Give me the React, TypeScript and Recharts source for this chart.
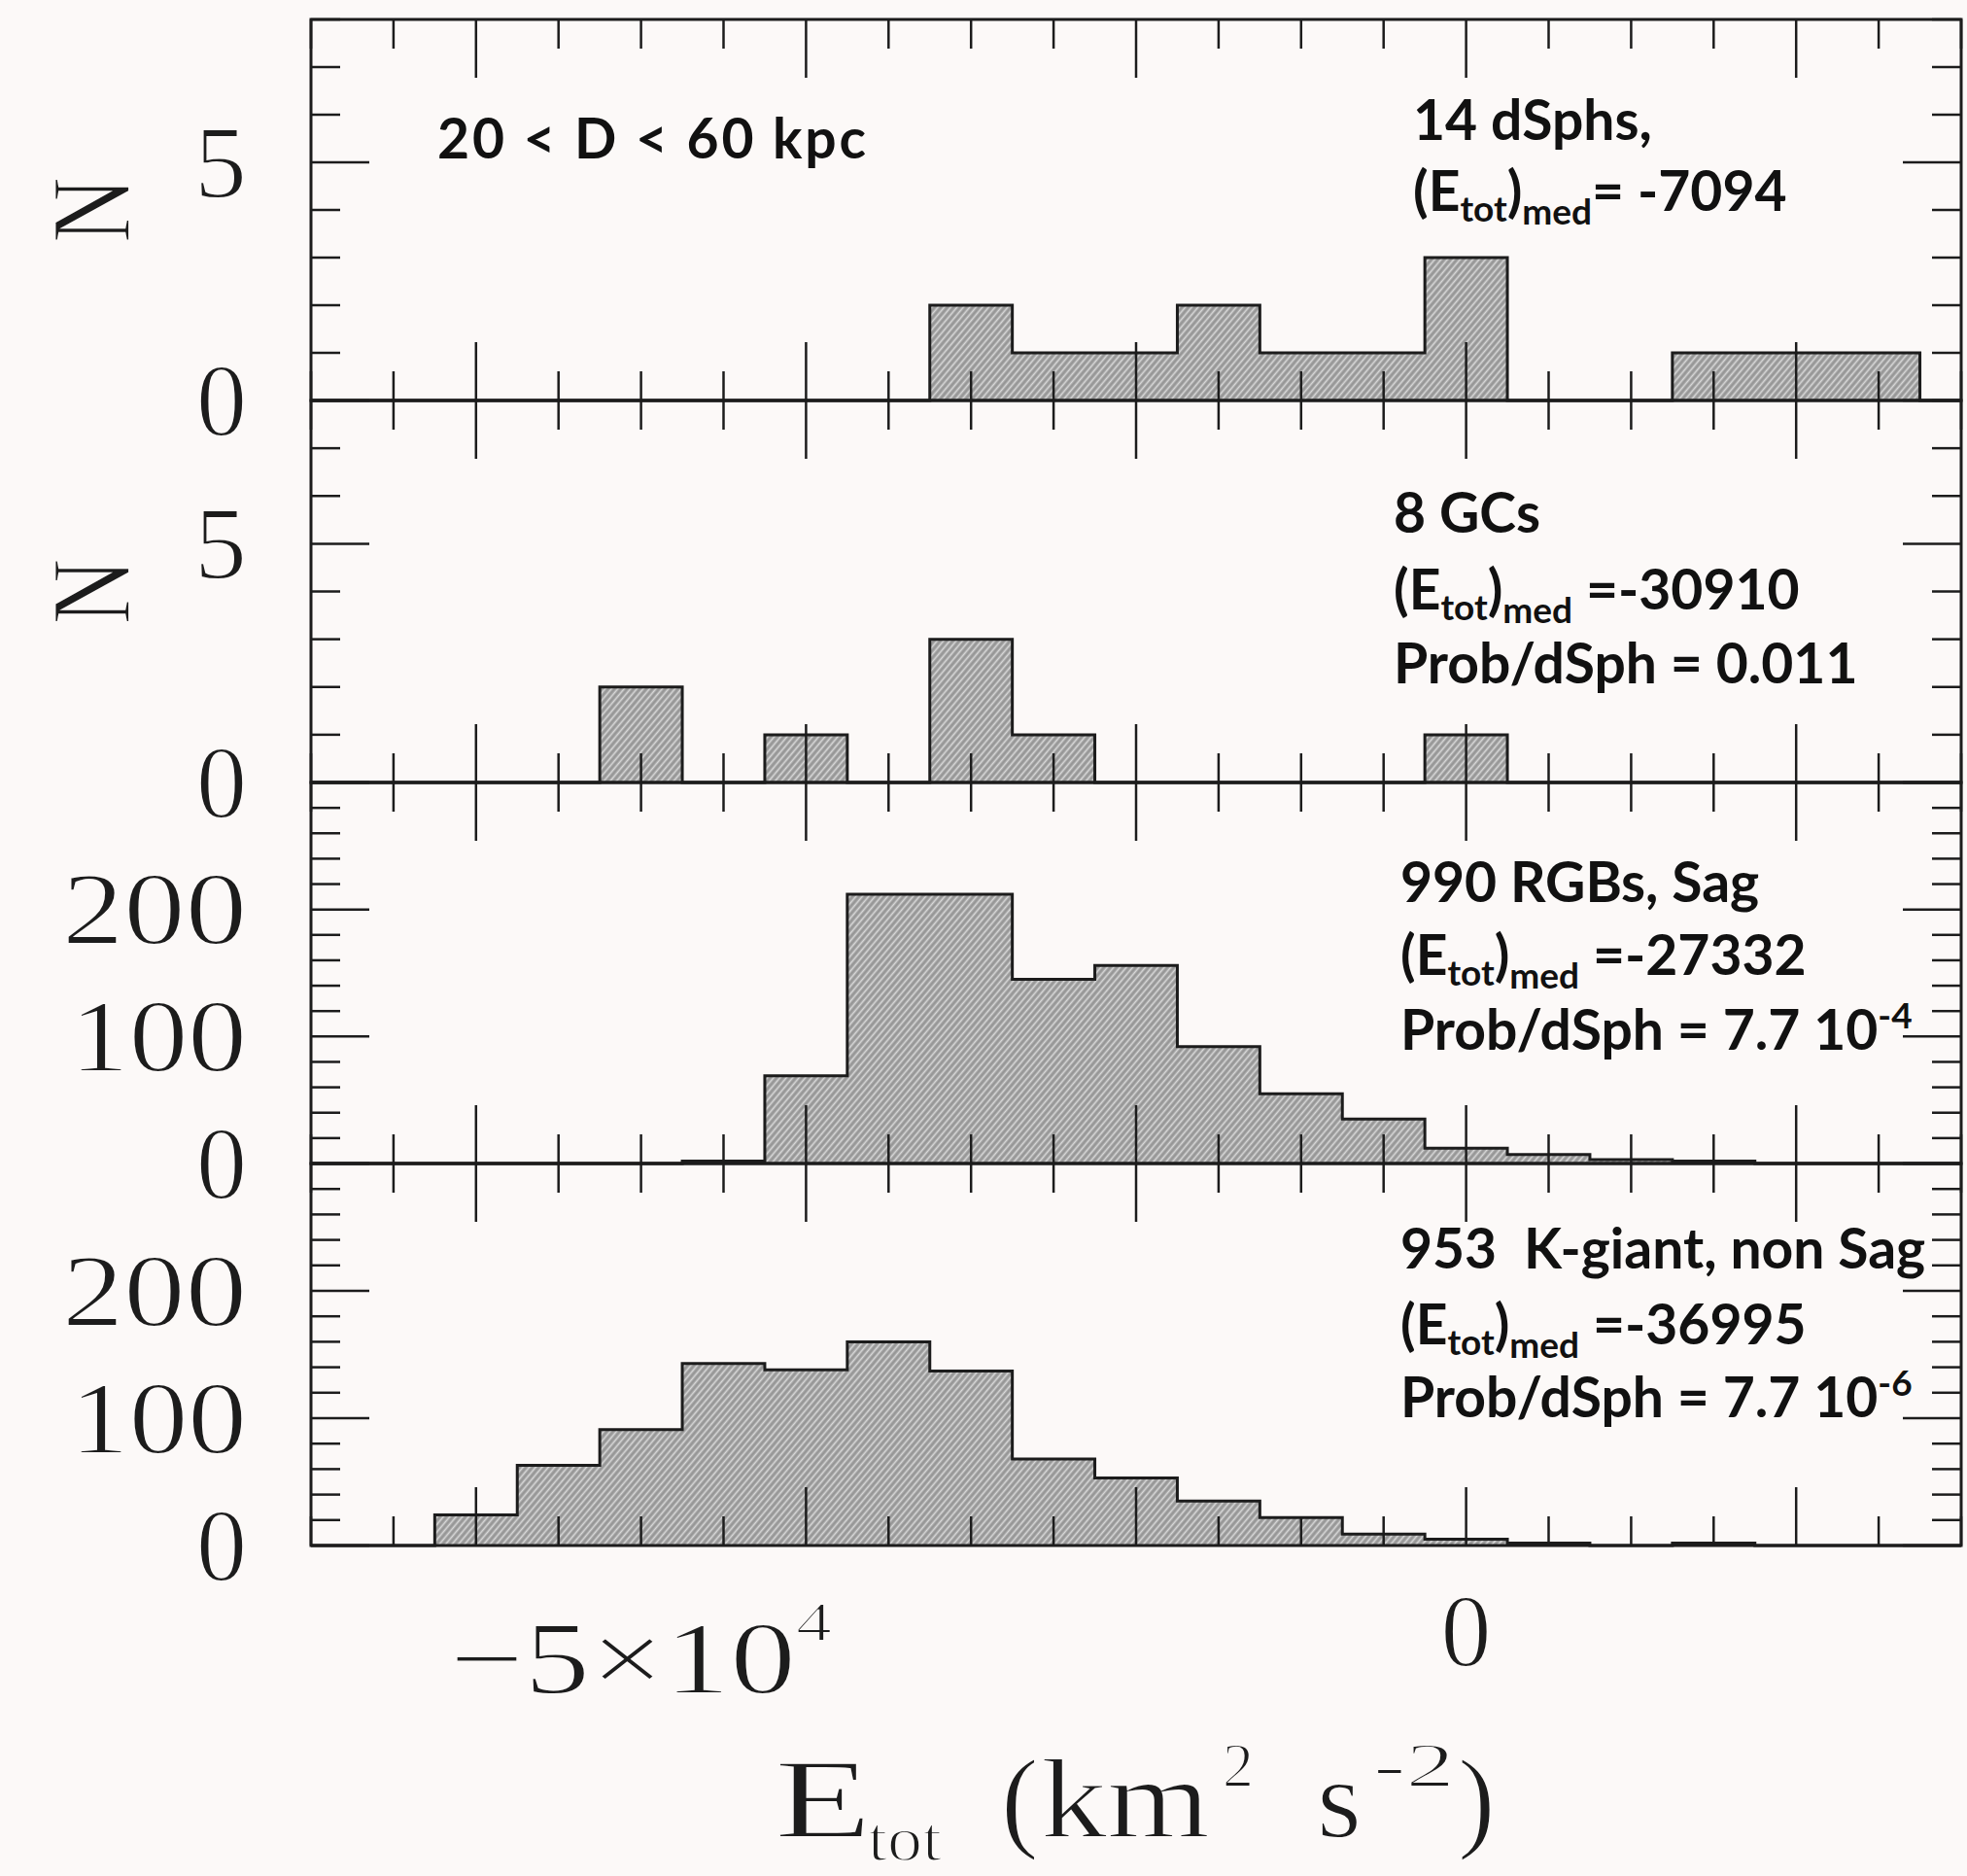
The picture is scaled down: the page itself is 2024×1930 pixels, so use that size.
import React from "react";
import { AreaChart, Area, XAxis, YAxis, ReferenceArea } from "recharts";

// E_tot histograms, bins 5000 km^2 s^-2 wide, centred on these values
const binCenters = [
  -70000, -65000, -60000, -55000, -50000, -45000, -40000, -35000, -30000, -25000,
  -20000, -15000, -10000, -5000, 0, 5000, 10000, 15000, 20000, 25000, 30000,
];

const dsphCounts = [0, 0, 0, 0, 0, 0, 0, 0, 2, 1, 1, 2, 1, 1, 3, 0, 0, 1, 1, 1, 0];
const gcCounts = [0, 0, 0, 0, 2, 0, 1, 0, 3, 1, 0, 0, 0, 0, 1, 0, 0, 0, 0, 0, 0];
const sagRgbCounts = [0, 0, 0, 0, 0, 2, 69, 212, 212, 145, 156, 92, 55, 35, 12, 7, 3, 2, 0, 0, 0];
const kGiantCounts = [0, 0, 24, 63, 91, 143, 138, 160, 137, 68, 53, 35, 22, 9, 5, 2, 0, 2, 0, 0, 0];

const xTicks = [
  -70000, -65000, -60000, -55000, -50000, -45000, -40000, -35000, -30000, -25000,
  -20000, -15000, -10000, -5000, 0, 5000, 10000, 15000, 20000, 25000, 30000,
];
const xMajorTicks = [-60000, -40000, -20000, 0, 20000];
const xLabelValues = [-50000, 0];
const xLabelBase = ["\u22125\u00d710", "0"];
const xLabelPower = ["4", ""];

const yTicksSmall = [0, 1, 2, 3, 4, 5, 6, 7, 8];
const yMajorSmall = [0, 5];
const yLabelsSmall = [0, 5];
const yTicksLarge = [0, 20, 40, 60, 80, 100, 120, 140, 160, 180, 200, 220, 240, 260, 280, 300];
const yMajorLarge = [0, 100, 200, 300];
const yLabelsLarge = [0, 100, 200];

const noteTitles = ["14 dSphs,", "8 GCs", "990 RGBs, Sag", "953  K-giant, non Sag"];
const noteMedians = ["= -7094", " =-30910", " =-27332", " =-36995"];
const noteProbs = ["", "Prob/dSph = 0.011", "Prob/dSph = 7.7 10", "Prob/dSph = 7.7 10"];
const noteProbPowers = ["", "", "-4", "-6"];
const distanceNote = "20 < D < 60 kpc";

const W = 2024;
const H = 1930;
const BG = "#fcf9f8";
const INK = "#1c1c1c";
const PLOT_LEFT = 320;
const PLOT_RIGHT = 2018;
const PLOT_W = PLOT_RIGHT - PLOT_LEFT;
const X_AXIS_H = 30;
const Y_AXIS_W = 100;
const panelTops = [20, 412, 805, 1197];
const panelBottoms = [412, 805, 1197, 1590];
const noteX = [1454, 1434, 1441, 1441];
const noteBase = [
  [144, 217, 0],
  [548, 627, 703],
  [928, 1003, 1080],
  [1305, 1383, 1458],
];

const serif = "'Liberation Serif', 'DejaVu Serif', serif";
const sans = "Lato, 'Open Sans', sans-serif";
const NOTE_FS = 57;
const SUB_FS = 37;
// thin the serif glyphs a little so they read closer to the plotting font
const thin = { stroke: BG, strokeWidth: 1.8 };

const yLabelWidth: Record<string, number> = { "0": 52, "5": 54, "100": 182, "200": 190 };

function XTick(props: any) {
  const { x, y, payload, plotH, showLabels } = props;
  const v = payload.value;
  const len = xMajorTicks.includes(v) ? 60 : 30;
  const li = xLabelValues.indexOf(v);
  const hasPow = li >= 0 && xLabelPower[li] !== "";
  return (
    <g>
      <line x1={x} x2={x} y1={y} y2={y - len} stroke={INK} strokeWidth={2.5} />
      <line x1={x} x2={x} y1={y - plotH} y2={y - plotH + len} stroke={INK} strokeWidth={2.5} />
      {showLabels && li >= 0 && (
        <text
          x={x}
          y={y + (hasPow ? 152 : 124)}
          textAnchor="middle"
          fontFamily={serif}
          fontSize={106}
          fill={INK}
          {...thin}
          textLength={hasPow ? 393 : 52}
          lengthAdjust="spacingAndGlyphs"
        >
          {xLabelBase[li]}
          {hasPow && (
            <tspan dy={-54} fontSize={58}>
              {xLabelPower[li]}
            </tspan>
          )}
        </text>
      )}
    </g>
  );
}

function YTick(props: any) {
  const { x, y, payload, majors, labels } = props;
  const v = payload.value;
  const len = majors.includes(v) ? 60 : 30;
  const txt = String(v);
  return (
    <g>
      <line x1={x} x2={x + len} y1={y} y2={y} stroke={INK} strokeWidth={2.5} />
      <line x1={x + PLOT_W} x2={x + PLOT_W - len} y1={y} y2={y} stroke={INK} strokeWidth={2.5} />
      {labels.includes(v) && (
        <text
          x={x - 66}
          y={y}
          textAnchor="end"
          dominantBaseline="central"
          fontFamily={serif}
          fontSize={106}
          fill={INK}
          {...thin}
          textLength={yLabelWidth[txt]}
          lengthAdjust="spacingAndGlyphs"
        >
          {txt}
        </text>
      )}
    </g>
  );
}

function MedianLine({ x, y, rest }: { x: number; y: number; rest: string }) {
  return (
    <text x={x} y={y} fontFamily={sans} fontWeight={700} fontSize={NOTE_FS} fill="#111" style={{ whiteSpace: "pre" }}>
      (E
      <tspan fontSize={SUB_FS} dy={11}>tot</tspan>
      <tspan dy={-11}>)</tspan>
      <tspan fontSize={SUB_FS} dy={14}>med</tspan>
      <tspan dy={-14}>{rest}</tspan>
    </text>
  );
}

export default function App() {
  const panels = [
    { key: "dsph", counts: dsphCounts, yMax: 8, ticks: yTicksSmall, majors: yMajorSmall, labels: yLabelsSmall },
    { key: "gc", counts: gcCounts, yMax: 8, ticks: yTicksSmall, majors: yMajorSmall, labels: yLabelsSmall },
    { key: "sag", counts: sagRgbCounts, yMax: 300, ticks: yTicksLarge, majors: yMajorLarge, labels: yLabelsLarge },
    { key: "kg", counts: kGiantCounts, yMax: 300, ticks: yTicksLarge, majors: yMajorLarge, labels: yLabelsLarge },
  ];

  return (
    <div style={{ position: "absolute", left: 0, top: 0, width: W, height: H, background: BG, overflow: "hidden" }}>
      <svg width={0} height={0} style={{ position: "absolute" }}>
        <defs>
          <pattern id="hatch" patternUnits="userSpaceOnUse" width={5} height={5} patternTransform="rotate(40)">
            <rect width={5} height={5} fill="#979797" />
            <line x1={2.5} y1={0} x2={2.5} y2={5} stroke="#d9d9d9" strokeWidth={1.7} />
          </pattern>
        </defs>
      </svg>

      {panels.map((p, i) => {
        const data = binCenters.map((e, j) => ({ e, n: p.counts[j] }));
        const top = panelTops[i];
        const bottom = panelBottoms[i];
        const plotH = bottom - top;
        return (
          <div key={p.key} style={{ position: "absolute", left: 0, top: 0 }}>
            <AreaChart
              width={W}
              height={H}
              data={data}
              margin={{ top, right: W - PLOT_RIGHT, bottom: H - bottom - X_AXIS_H, left: PLOT_LEFT - Y_AXIS_W }}
            >
              <Area
                type="step"
                dataKey="n"
                stroke={INK}
                strokeWidth={3}
                fill="url(#hatch)"
                fillOpacity={1}
                dot={false}
                activeDot={false}
                isAnimationActive={false}
              />
              <ReferenceArea x1={-70000} x2={30000} y1={0} y2={p.yMax} fill="none" stroke={INK} strokeWidth={3} />
              <XAxis
                type="number"
                dataKey="e"
                domain={[-70000, 30000]}
                ticks={xTicks}
                interval={0}
                height={X_AXIS_H}
                tickSize={0}
                tickMargin={0}
                tickLine={false}
                axisLine={false}
                tick={(t: any) => <XTick {...t} plotH={plotH} showLabels={i === 3} />}
              />
              <YAxis
                type="number"
                domain={[0, p.yMax]}
                ticks={p.ticks}
                interval={0}
                width={Y_AXIS_W}
                tickSize={0}
                tickMargin={0}
                tickLine={false}
                axisLine={false}
                tick={(t: any) => <YTick {...t} majors={p.majors} labels={p.labels} />}
              />
            </AreaChart>
          </div>
        );
      })}

      <svg width={W} height={H} style={{ position: "absolute", left: 0, top: 0, pointerEvents: "none" }}>
        {[0, 1].map((i) => {
          const cy = (panelTops[i] + panelBottoms[i]) / 2;
          return (
            <text
              key={"n" + i}
              x={94}
              y={cy}
              transform={`rotate(-90 94 ${cy})`}
              textAnchor="middle"
              dominantBaseline="central"
              fontFamily={serif}
              fontSize={116}
              fill={INK}
              {...thin}
              textLength={68}
              lengthAdjust="spacingAndGlyphs"
            >
              N
            </text>
          );
        })}

        <text
          x={450}
          y={163}
          fontFamily={sans}
          fontWeight={700}
          fontSize={NOTE_FS}
          fill="#111"
          textLength={441}
          lengthAdjust="spacing"
        >
          {distanceNote}
        </text>

        {noteTitles.map((t, i) => (
          <g key={"note" + i}>
            <text x={noteX[i]} y={noteBase[i][0]} fontFamily={sans} fontWeight={700} fontSize={NOTE_FS} fill="#111" style={{ whiteSpace: "pre" }}>
              {t}
            </text>
            <MedianLine x={noteX[i]} y={noteBase[i][1]} rest={noteMedians[i]} />
            {noteProbs[i] !== "" && (
              <text x={noteX[i]} y={noteBase[i][2]} fontFamily={sans} fontWeight={700} fontSize={NOTE_FS} fill="#111">
                {noteProbs[i]}
                {noteProbPowers[i] !== "" && (
                  <tspan fontSize={SUB_FS} dy={-22}>
                    {noteProbPowers[i]}
                  </tspan>
                )}
              </text>
            )}
          </g>
        ))}

        <g fontFamily={serif} fill={INK} {...thin}>
          <text x={797} y={1890} fontSize={116} textLength={100} lengthAdjust="spacingAndGlyphs">E</text>
          <text x={893} y={1914} fontSize={66} textLength={76} lengthAdjust="spacingAndGlyphs">tot</text>
          <text x={1030} y={1890} fontSize={116}>(</text>
          <text x={1071} y={1890} fontSize={116} textLength={174} lengthAdjust="spacingAndGlyphs">km</text>
          <text x={1258} y={1838} fontSize={66} textLength={32} lengthAdjust="spacingAndGlyphs">2</text>
          <text x={1355} y={1890} fontSize={116} textLength={46} lengthAdjust="spacingAndGlyphs">s</text>
          <text x={1413} y={1838} fontSize={66} textLength={84} lengthAdjust="spacingAndGlyphs">-2</text>
          <text x={1500} y={1890} fontSize={116}>)</text>
        </g>
      </svg>
    </div>
  );
}
